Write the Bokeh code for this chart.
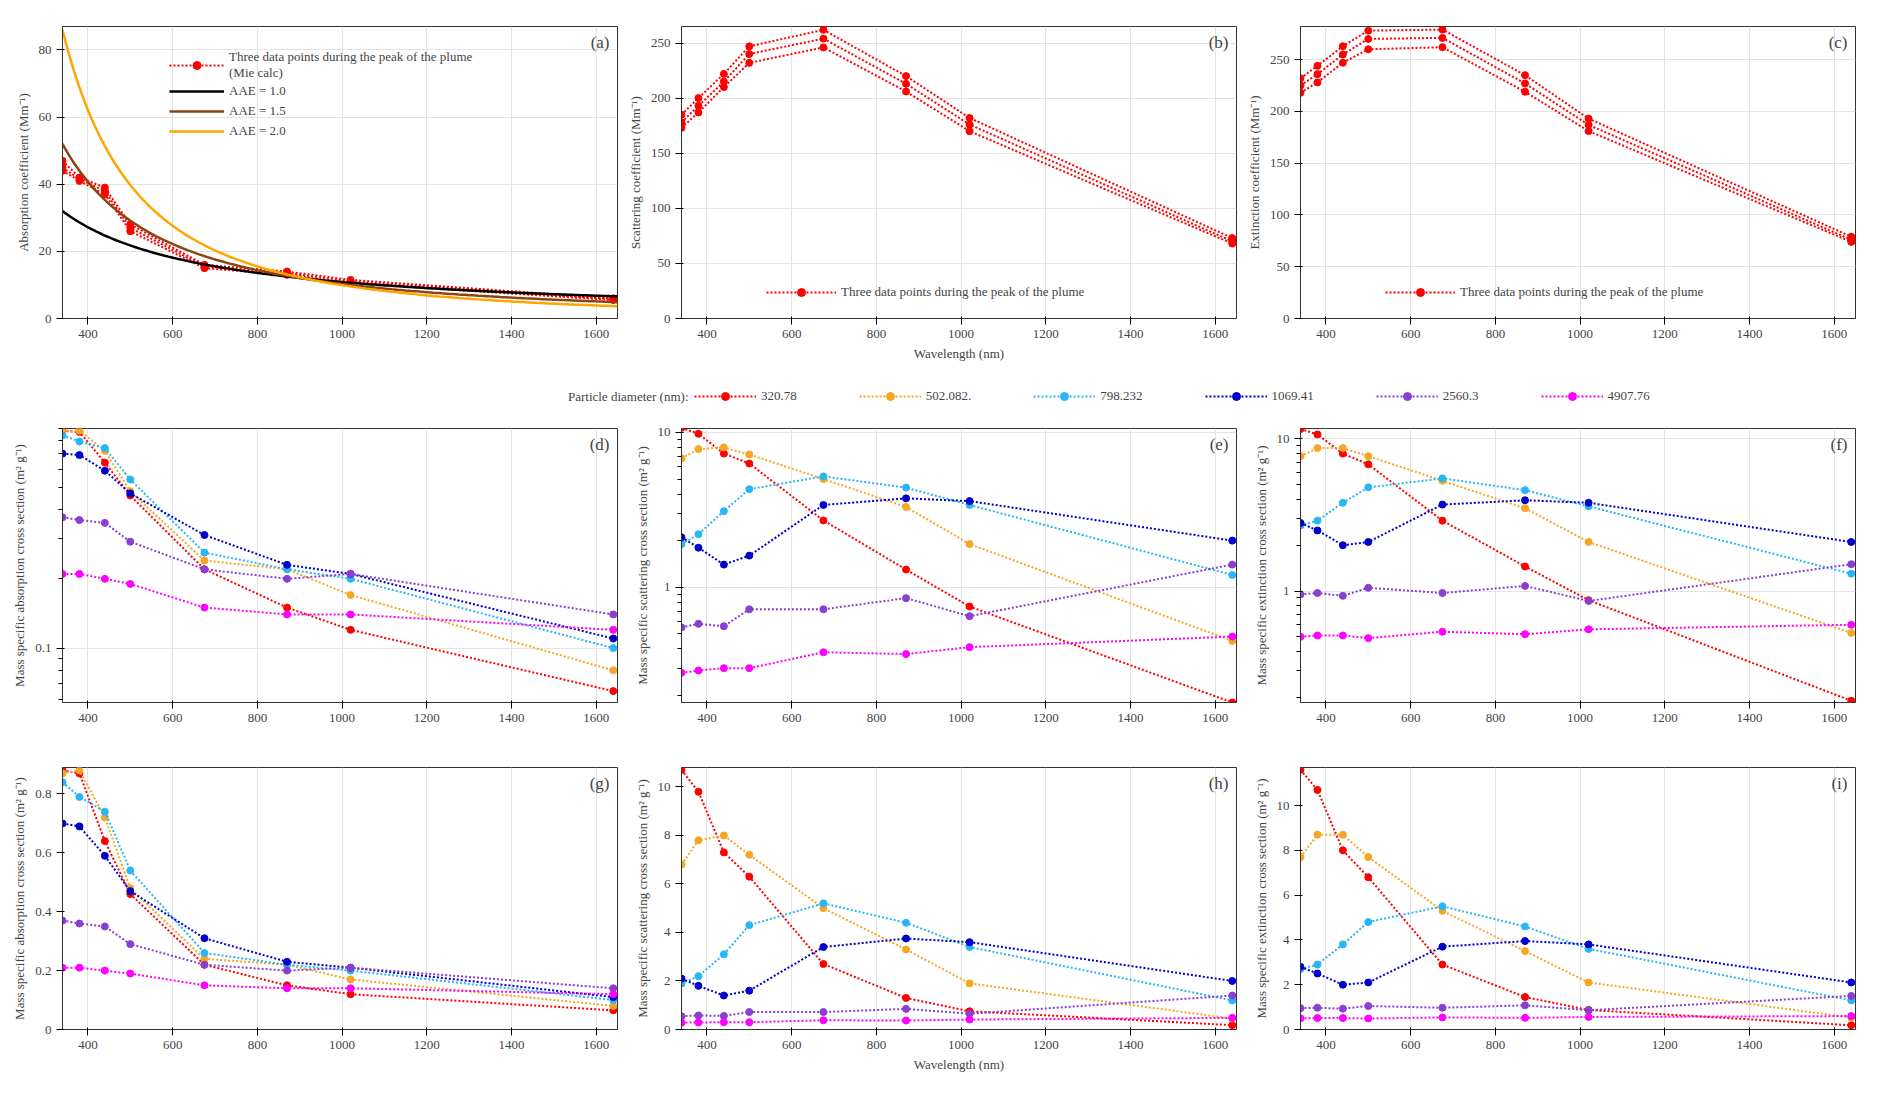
from bokeh.plotting import figure
from bokeh.layouts import column, row
from bokeh.models import Legend, LegendItem, Label, Range1d, FixedTicker, CustomJSTickFormatter
from bokeh.embed import file_html
from bokeh.resources import INLINE
import numpy as np

wl = [340, 380, 440, 500, 675, 870, 1020, 1640]

# panel (a): three Mie-calculated absorption series (Mm-1)
abs_plume = [[47, 42, 39, 28, 16, 14, 11.5, 6.0],
             [45, 41.5, 38, 27, 15.5, 13.5, 11, 5.8],
             [44, 41, 37, 26, 15, 13, 10.5, 5.5]]
aae_values = [1.0, 1.5, 2.0]
aae_b340 = [32, 52, 86]
aae_colors = ["black", "#8B4513", "#FFA500"]
# panel (b) scattering
sca_plume = [[185, 200, 222, 247, 262, 220, 182, 73],
             [178, 193, 215, 240, 254, 213, 176, 70],
             [173, 187, 210, 232, 246, 206, 170, 68]]
# panel (c) extinction
ext_plume = [[232, 244, 263, 278, 279, 235, 193, 79],
             [225, 236, 255, 270, 271, 227, 187, 76],
             [218, 228, 247, 260, 262, 219, 181, 74]]

diam_labels = ["320.78", "502.082.", "798.232", "1069.41", "2560.3", "4907.76"]
diam_colors = ["#FF0000", "#F5A623", "#29B6F6", "#0000CD", "#8A3FD1", "#FF00FF"]

mac = [[0.88, 0.87, 0.64, 0.46, 0.22, 0.15, 0.12, 0.065],
       [0.87, 0.88, 0.72, 0.48, 0.24, 0.22, 0.17, 0.08],
       [0.84, 0.79, 0.74, 0.54, 0.26, 0.22, 0.20, 0.10],
       [0.70, 0.69, 0.59, 0.47, 0.31, 0.23, 0.21, 0.11],
       [0.37, 0.36, 0.35, 0.29, 0.22, 0.20, 0.21, 0.14],
       [0.21, 0.21, 0.20, 0.19, 0.15, 0.14, 0.14, 0.12]]
msc = [[10.7, 9.8, 7.3, 6.3, 2.7, 1.3, 0.75, 0.18],
       [6.8, 7.8, 8.0, 7.2, 5.0, 3.3, 1.9, 0.45],
       [1.9, 2.2, 3.1, 4.3, 5.2, 4.4, 3.4, 1.2],
       [2.1, 1.8, 1.4, 1.6, 3.4, 3.75, 3.6, 2.0],
       [0.55, 0.58, 0.56, 0.72, 0.72, 0.85, 0.65, 1.4],
       [0.28, 0.29, 0.30, 0.30, 0.38, 0.37, 0.41, 0.48]]
mec = [[11.6, 10.7, 8.0, 6.8, 2.9, 1.45, 0.87, 0.19],
       [7.7, 8.7, 8.7, 7.7, 5.3, 3.5, 2.1, 0.53],
       [2.7, 2.9, 3.8, 4.8, 5.5, 4.6, 3.6, 1.3],
       [2.8, 2.5, 2.0, 2.1, 3.7, 3.95, 3.8, 2.1],
       [0.95, 0.97, 0.93, 1.05, 0.97, 1.08, 0.86, 1.5],
       [0.50, 0.51, 0.51, 0.49, 0.54, 0.52, 0.56, 0.60]]

FONT = "Liberation Serif"
FW = 555
FS = "13px"


def mk(fh, ylab, yr, letter, xlabel=None, log=False, top=20, bottom=40):
    kw = dict(y_axis_type="log") if log else {}
    p = figure(frame_width=FW, frame_height=fh, output_backend="svg",
               toolbar_location=None, x_range=Range1d(340, 1650),
               y_range=Range1d(*yr), min_border_left=62, min_border_right=2,
               min_border_top=top, min_border_bottom=bottom, **kw)
    p.xaxis.ticker = FixedTicker(ticks=[400, 600, 800, 1000, 1200, 1400, 1600])
    for ax in (p.xaxis[0], p.yaxis[0]):
        ax.major_label_text_font = FONT
        ax.major_label_text_font_size = FS
        ax.axis_label_text_font = FONT
        ax.axis_label_text_font_style = "normal"
        ax.axis_label_text_font_size = FS
        ax.axis_line_color = "#333"
    p.yaxis.axis_label = ylab
    if xlabel:
        p.xaxis.axis_label = xlabel
    p.xgrid.grid_line_color = "#e3e3e3"
    p.ygrid.grid_line_color = "#e3e3e3"
    p.outline_line_color = "#333"
    p.add_layout(Label(x=FW - 8, y=fh - 6, x_units="screen", y_units="screen",
                       text=letter, text_align="right", text_baseline="top",
                       text_font=FONT, text_font_size="17px"))
    return p


def plume(p, data):
    r = None
    for s in data:
        r = p.line(wl, s, color="red", line_dash="2 2", line_width=2)
        p.scatter(wl, s, color="red", size=7)
    return r


# Row 1
pa = mk(292, "Absorption coefficient (Mm⁻¹)", (0, 87), "(a)", top=26, bottom=55)
pa.ygrid.ticker = FixedTicker(ticks=[0, 20, 40, 60, 80])
pa.yaxis.ticker = FixedTicker(ticks=[0, 20, 40, 60, 80])
lx = np.linspace(340, 1650, 200)
items = []
rp = plume(pa, abs_plume)
rd = pa.scatter([np.nan], [np.nan], color="red", size=10)
items.append(LegendItem(label="Three data points during the peak of the plume\n(Mie calc)", renderers=[rp, rd]))
for a, b0, c in zip(aae_values, aae_b340, aae_colors):
    r = pa.line(lx, b0 * (340.0 / lx) ** a, color=c, line_width=2.5)
    items.append(LegendItem(label=f"AAE = {a:.1f}", renderers=[r]))
lg = Legend(items=items, location=(105, 175), background_fill_alpha=0,
            border_line_alpha=0, label_text_font=FONT, label_text_font_size=FS,
            glyph_width=55, spacing=-2, padding=2)
pa.add_layout(lg, "center")


def plume_panel(data, ylab, yr, letter, xlabel=None):
    p = mk(292, ylab, yr, letter, xlabel=xlabel, top=26, bottom=55)
    r = plume(p, data)
    rd = p.scatter([np.nan], [np.nan], color="red", size=10)
    p.add_layout(Legend(items=[LegendItem(label="Three data points during the peak of the plume", renderers=[r, rd])],
                        location=(75, 6), background_fill_alpha=0, border_line_alpha=0,
                        label_text_font=FONT, label_text_font_size=FS, glyph_width=70), "center")
    p.yaxis.ticker = FixedTicker(ticks=[0, 50, 100, 150, 200, 250])
    p.ygrid.ticker = FixedTicker(ticks=[0, 50, 100, 150, 200, 250])
    return p


pb = plume_panel(sca_plume, "Scattering coefficient (Mm⁻¹)", (0, 265), "(b)", "Wavelength (nm)")
pc = plume_panel(ext_plume, "Extinction coefficient (Mm⁻¹)", (0, 282), "(c)")

# Legend row
pl = figure(width=1857, height=45, output_backend="svg", toolbar_location=None,
            x_range=Range1d(0, 1), y_range=Range1d(0, 1), min_border=0)
pl.axis.visible = False
pl.grid.visible = False
pl.outline_line_color = None
litems = []
for lab, c in zip(diam_labels, diam_colors):
    r1 = pl.line([np.nan], [np.nan], color=c, line_dash="2 2", line_width=2)
    r2 = pl.scatter([np.nan], [np.nan], color=c, size=9)
    litems.append(LegendItem(label=lab, renderers=[r1, r2]))
pl.add_layout(Legend(items=litems, orientation="horizontal", location=(690, 8),
                     background_fill_alpha=0, border_line_alpha=0, label_text_font=FONT,
                     label_text_font_size=FS, glyph_width=62, spacing=62, padding=4), "center")
pl.add_layout(Label(x=688, y=22, x_units="screen", y_units="screen", text="Particle diameter (nm):",
                    text_align="right", text_baseline="middle", text_font=FONT, text_font_size=FS))


def species(p, data):
    for s, c in zip(data, diam_colors):
        p.line(wl, s, color=c, line_dash="2 2", line_width=2)
        p.scatter(wl, s, color=c, size=7)


def logticks(p, majors, minors):
    p.yaxis.ticker = FixedTicker(ticks=majors, minor_ticks=minors)
    p.ygrid.ticker = FixedTicker(ticks=majors)
    p.yaxis.formatter = CustomJSTickFormatter(code="return String(Number(tick.toPrecision(3)));")


pd_ = mk(274, "Mass specific absorption cross section (m² g⁻¹)", (0.058, 0.9), "(d)", log=True, top=10)
species(pd_, mac)
logticks(pd_, [0.1], [0.06, 0.07, 0.08, 0.09, 0.2, 0.3, 0.4, 0.5, 0.6, 0.7, 0.8, 0.9])
pe = mk(274, "Mass specific scattering cross section (m² g⁻¹)", (0.18, 10.6), "(e)", log=True, top=10)
species(pe, msc)
logticks(pe, [1, 10], [0.2, 0.3, 0.4, 0.5, 0.6, 0.7, 0.8, 0.9, 2, 3, 4, 5, 6, 7, 8, 9])
pf = mk(274, "Mass specific extinction cross section (m² g⁻¹)", (0.185, 11.7), "(f)", log=True, top=10)
species(pf, mec)
logticks(pf, [1, 10], [0.2, 0.3, 0.4, 0.5, 0.6, 0.7, 0.8, 0.9, 2, 3, 4, 5, 6, 7, 8, 9])

pg = mk(262, "Mass specific absorption cross section (m² g⁻¹)", (0, 0.89), "(g)", top=25, bottom=53)
pg.yaxis.ticker = FixedTicker(ticks=[0, 0.2, 0.4, 0.6, 0.8])
species(pg, mac)
ph = mk(262, "Mass specific scattering cross section (m² g⁻¹)", (0, 10.8), "(h)", "Wavelength (nm)", top=25, bottom=53)
ph.yaxis.ticker = FixedTicker(ticks=[0, 2, 4, 6, 8, 10])
species(ph, msc)
pi = mk(262, "Mass specific extinction cross section (m² g⁻¹)", (0, 11.7), "(i)", top=25, bottom=53)
pi.yaxis.ticker = FixedTicker(ticks=[0, 2, 4, 6, 8, 10])
species(pi, mec)
for p in (pg, ph, pi):
    p.ygrid.visible = False

layout = column(row(pa, pb, pc), pl, row(pd_, pe, pf), row(pg, ph, pi), spacing=0)
open("out.html", "w").write(file_html(layout, INLINE))
